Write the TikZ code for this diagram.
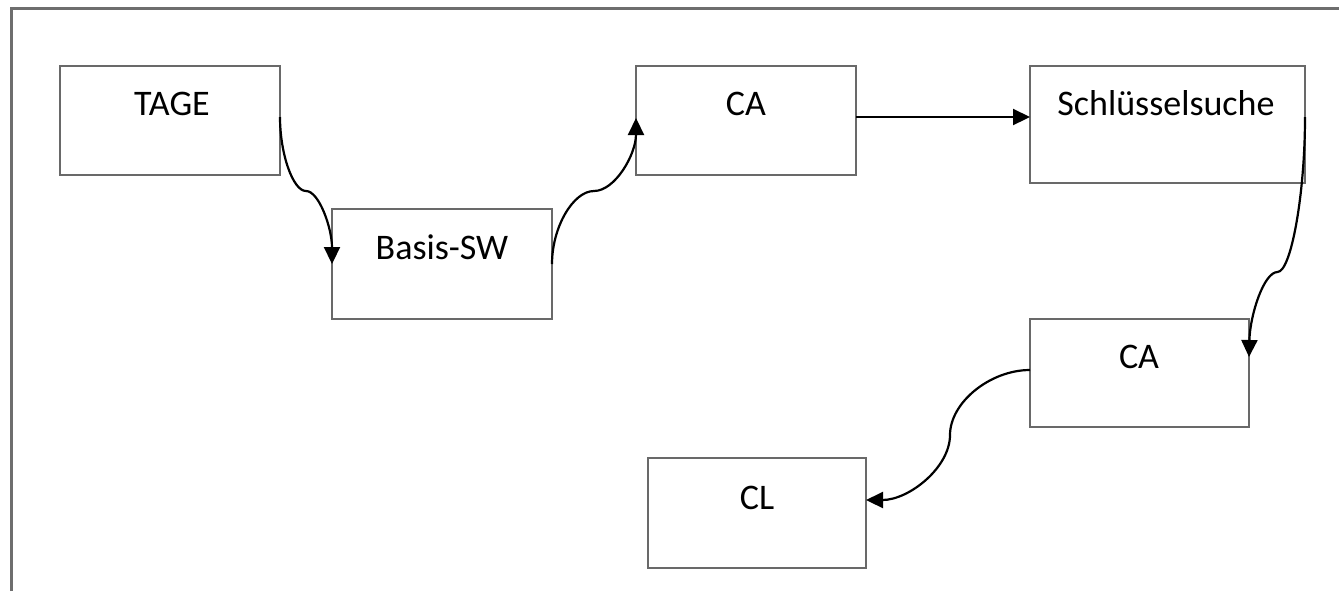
\documentclass[tikz,border=0pt]{standalone}
\usepackage{fontspec}
\setmainfont{Carlito}
\usetikzlibrary{arrows.meta,calc}
\definecolor{framegray}{RGB}{110,110,110}
\definecolor{boxgray}{RGB}{105,105,105}
\tikzset{
  box/.style={draw=boxgray, line width=1pt, rectangle, inner sep=0pt, outer sep=0pt},
  lbl/.style={anchor=base, inner sep=0pt, font=\fontsize{18pt}{21pt}\selectfont},
  conn/.style={draw=black, line width=1.1pt, -{Triangle[length=8.5pt,width=8pt]}},
  frameline/.style={draw=framegray, line width=1.5pt}
}
\begin{document}
\begin{tikzpicture}[x=0.5pt,y=-0.5pt]
\useasboundingbox (0,0) rectangle (1339,591);
% frame
\coordinate (f1) at (11,591);
\coordinate (f2) at (11,8);
\coordinate (f3) at (1339,8);
\draw[frameline] (f1) -- (f2) -- (f3);
% boxes
\node[box, minimum width=110pt, minimum height=54.5pt] (tage) at (170,120.5) {};
\node[box, minimum width=110pt, minimum height=55pt] (basis) at (442,264) {};
\node[box, minimum width=110pt, minimum height=54.5pt] (ca1) at (746,120.5) {};
\node[box, minimum width=137.5pt, minimum height=58.5pt] (schl) at (1167.5,124.5) {};
\node[box, minimum width=109.5pt, minimum height=54pt] (ca2) at (1139.5,373) {};
\node[box, minimum width=109pt, minimum height=55pt] (cl) at (757,513) {};
% labels
\node[lbl] (tage-t) at (172,115) {TAGE};
\node[lbl] (basis-t) at (442,259) {Basis-SW};
\node[lbl] (ca1-t) at (746,115) {CA};
\node[lbl] (schl-t) at (1166,115) {Schlüsselsuche};
\node[lbl] (ca2-t) at (1139,368) {CA};
\node[lbl] (cl-t) at (757,509) {CL};
% connectors
\coordinate (s1) at ([yshift=1.75pt]tage.east);
\coordinate (m1) at (306,191);
\draw[conn] (s1) .. controls (280,154) and (293,191) .. (m1)
                 .. controls (319,191) and (332,228) .. (basis.west);
\coordinate (e2) at ([yshift=1.25pt]ca1.west);
\coordinate (m2) at (594,191);
\draw[conn] (basis.east) .. controls (552,227.5) and (573,191) .. (m2)
                 .. controls (615,191) and (636,154.5) .. (e2);
\coordinate (s3) at ([yshift=1.75pt]ca1.east);
\draw[conn] (s3) -- (s3 -| schl.west);
\coordinate (s4) at ([yshift=3.75pt]schl.east);
\coordinate (e4) at ([yshift=8pt]ca2.east);
\coordinate (m4) at (1277.5,272);
\draw[conn] (s4) .. controls (1305,194.5) and (1291,272) .. (m4)
                 .. controls (1264,272) and (1250,314.5) .. (e4);
\coordinate (s5) at ([yshift=1.5pt]ca2.west);
\coordinate (e5) at ([yshift=6.5pt]cl.east);
\coordinate (m5) at (950,435);
\draw[conn] (s5) .. controls (990,370) and (950,402.5) .. (m5)
                 .. controls (950,467.5) and (909,500) .. (e5);
\end{tikzpicture}
\end{document}
